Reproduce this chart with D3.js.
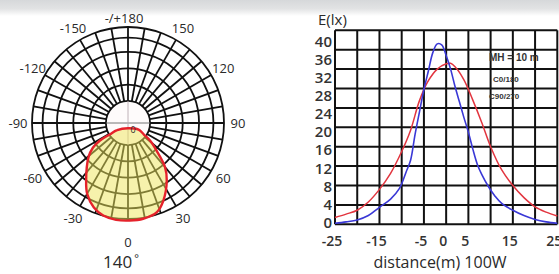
<!DOCTYPE html>
<html>
<head>
<meta charset="utf-8">
<script src="https://cdn.jsdelivr.net/npm/d3@7"></script>
<style>
body { margin: 0; background: #fff; }
svg { display: block; }
text { font-family: "Open Sans", sans-serif; fill: #2a2a2a; }
</style>
</head>
<body>
<div id="chart"></div>
<script>
(function(d3) {
'use strict';

// polar diagram: outline of the light distribution (0 = straight down, negative = left)
var lobeAngles = [0, -57, -58, -58, -55, -49, -36, -30, -22, -15, -7, 1, 9, 18, 24.5, 34, 40, 46, 51.5, 54, 58];
var lobeValues = [5.5, 13.5, 22.5, 34.4, 44.5, 54.6, 74.2, 85.1, 94.9, 99.7, 101.6, 101.6, 101, 97.6, 88.8, 72.2, 60, 41.4, 29.3, 20.5, 13];
var ringValues = [23, 40, 57, 74, 89, 100];
var polarAngles = [0, 30, 60, 90, 120, 150, 180, -150, -120, -90, -60, -30];
var polarLabels = ['0', '30', '60', '90', '120', '150', '-/+180', '-150', '-120', '-90', '-60', '-30'];

// illuminance curves
var blueX = [-25, -22.5, -20, -17.5, -15, -12.5, -10.5, -9, -8, -7, -6, -5, -4, -3, -2, -1, 0, 1, 2, 3, 4, 5, 6, 7, 8, 9.5, 11, 12.5, 15, 17.5, 20, 22.5, 25];
var blueLux = [0.2, 0.5, 0.9, 1.8, 3.5, 5.2, 7.4, 10.8, 13.2, 18.5, 23.2, 27.8, 31.6, 35.4, 37.2, 37.0, 34.8, 32.0, 28.4, 25.2, 22.0, 19.0, 15.5, 12.4, 10.3, 7.8, 5.8, 4.3, 2.9, 1.8, 1.0, 0.5, 0.2];
var redX = [-25, -22.5, -20, -17.5, -15, -12.5, -10, -8, -6, -4, -2, 0, 1, 2, 4, 6, 8, 10, 12.5, 15, 17.5, 20, 22.5, 25];
var redLux = [1.4, 2.1, 2.9, 4.6, 7.2, 10.5, 15.0, 19.4, 25.5, 29.6, 32.0, 33.1, 33.2, 32.5, 29.8, 25.6, 21.0, 16.0, 11.2, 8.0, 5.5, 3.6, 2.5, 1.7];
var xTicks = [-25, -15, -5, 0, 5, 15, 25];
var yTicks = [0, 4, 8, 12, 16, 20, 24, 28, 32, 36, 40];
var legendLines = ['C0/180', 'C90/270'];

var width = 559, height = 274;

var svg = d3.select('#chart')
  .append('svg')
  .attr('width', width)
  .attr('height', height);

// scanned page edge at the top
var grad = svg.append('defs').append('linearGradient')
  .attr('id', 'topfade').attr('x1', 0).attr('y1', 0).attr('x2', 0).attr('y2', 1);
grad.append('stop').attr('offset', '0%').attr('stop-color', '#d6d8da');
grad.append('stop').attr('offset', '55%').attr('stop-color', '#e2e3e4');
grad.append('stop').attr('offset', '100%').attr('stop-color', '#ffffff');
svg.append('rect').attr('width', width).attr('height', 16).attr('fill', 'url(#topfade)');

// ---------- polar ----------
var cx = 128, cy = 123, R = 96;
var r = d3.scaleLinear().domain([0, 100]).range([0, R]);
var rad = function(a) { return (180 - a) * Math.PI / 180; };

var polar = svg.append('g').attr('transform', 'translate(' + cx + ',' + cy + ')');

polar.selectAll('line.spoke')
  .data(d3.range(0, 360, 10))
  .enter()
  .append('line')
  .attr('class', 'spoke')
  .attr('x1', function(d) { return Math.sin(rad(d)) * r(ringValues[0]); })
  .attr('y1', function(d) { return -Math.cos(rad(d)) * r(ringValues[0]); })
  .attr('x2', function(d) { return Math.sin(rad(d)) * R; })
  .attr('y2', function(d) { return -Math.cos(rad(d)) * R; })
  .attr('stroke', '#111')
  .attr('stroke-width', 1.8);

polar.selectAll('circle.ring')
  .data(ringValues)
  .enter()
  .append('circle')
  .attr('class', 'ring')
  .attr('r', function(d) { return r(d); })
  .attr('fill', function(d, i) { return i === 0 ? '#fefbfb' : 'none'; })
  .attr('stroke', '#111')
  .attr('stroke-width', 1.8);

// thin cross in the hole
var hole = r(ringValues[0]);
polar.append('line').attr('x1', -hole).attr('x2', hole).attr('y1', 0).attr('y2', 0)
  .attr('stroke', '#666').attr('stroke-width', 0.9);
polar.append('line').attr('x1', 0).attr('x2', 0).attr('y1', -hole).attr('y2', hole)
  .attr('stroke', '#b9a9b0').attr('stroke-width', 0.9);

var lobe = lobeAngles.map(function(a, i) { return { a: a, v: lobeValues[i] }; });
var lobeLine = d3.lineRadial()
  .angle(function(d) { return rad(d.a); })
  .radius(function(d) { return r(d.v); })
  .curve(d3.curveCatmullRomClosed);

polar.append('path')
  .attr('d', lobeLine(lobe))
  .attr('fill', '#eee55a')
  .attr('fill-opacity', 0.5)
  .attr('stroke', 'none');
polar.append('path')
  .attr('d', lobeLine(lobe))
  .attr('fill', 'none')
  .attr('stroke', '#e5222b')
  .attr('stroke-width', 2.4);

polar.append('text')
  .attr('x', 5).attr('y', 6)
  .attr('text-anchor', 'middle')
  .attr('dominant-baseline', 'central')
  .style('font-size', '9px')
  .text('0');

polar.selectAll('text.plab')
  .data(polarAngles)
  .enter()
  .append('text')
  .attr('class', 'plab')
  .attr('x', function(d) { var lr = d === 0 ? 119 : d === 180 ? 105 : 110; return Math.sin(rad(d)) * lr + (d === 180 ? -4 : 0); })
  .attr('y', function(d) { var lr = d === 0 ? 119 : d === 180 ? 105 : 110; return -Math.cos(rad(d)) * lr; })
  .attr('text-anchor', 'middle')
  .attr('dominant-baseline', 'central')
  .style('font-size', '13px')
  .text(function(d, i) { return polarLabels[i]; });

svg.append('text')
  .attr('x', 103).attr('y', 268)
  .style('font-size', '17px')
  .text('140')
  .append('tspan')
  .attr('dx', 2).attr('dy', -6)
  .style('font-size', '11px')
  .text('°');

// ---------- illuminance ----------
var x = d3.scaleLinear().domain([-25, 25]).range([335, 557.3]);
var y = d3.scaleLinear().domain([0, 40]).range([224.3, 30.3]);
// tick labels on the scan sit a little tighter than the grid
var yLab = d3.scaleLinear().domain([0, 40]).range([222, 40.5]);

var grid = svg.append('g');
grid.selectAll('line.v')
  .data(d3.range(-25, 26, 5))
  .enter()
  .append('line')
  .attr('x1', function(d) { return x(d); }).attr('x2', function(d) { return x(d); })
  .attr('y1', y(0)).attr('y2', y(40))
  .attr('stroke', '#111').attr('stroke-width', 2);
grid.selectAll('line.h')
  .data(yTicks)
  .enter()
  .append('line')
  .attr('x1', x(-25)).attr('x2', x(25))
  .attr('y1', function(d) { return y(d); }).attr('y2', function(d) { return y(d); })
  .attr('stroke', '#111').attr('stroke-width', 2);

svg.selectAll('text.ylab')
  .data(yTicks)
  .enter()
  .append('text')
  .attr('class', 'ylab')
  .attr('x', 332)
  .attr('y', function(d) { return yLab(d); })
  .attr('text-anchor', 'end')
  .attr('dominant-baseline', 'central')
  .style('font-size', '15px')
  .style('font-weight', 600)
  .style('fill', '#333')
  .text(function(d) { return d; });

svg.selectAll('text.xlab')
  .data(xTicks)
  .enter()
  .append('text')
  .attr('class', 'xlab')
  .attr('x', function(d) { return x(d) - 3; })
  .attr('y', 240)
  .attr('text-anchor', 'middle')
  .attr('dominant-baseline', 'central')
  .style('font-size', '14px')
  .style('font-weight', 600)
  .style('fill', '#333')
  .text(function(d) { return d; });

var curve = d3.line()
  .x(function(d) { return x(d[0]); })
  .y(function(d) { return y(d[1]); })
  .curve(d3.curveCatmullRom);

svg.append('path')
  .attr('d', curve(redX.map(function(v, i) { return [v, redLux[i]]; })))
  .attr('fill', 'none')
  .attr('stroke', '#e2353f')
  .attr('stroke-width', 1.5);
svg.append('path')
  .attr('d', curve(blueX.map(function(v, i) { return [v, blueLux[i]]; })))
  .attr('fill', 'none')
  .attr('stroke', '#3a38d6')
  .attr('stroke-width', 1.6);

svg.append('text')
  .attr('x', 318).attr('y', 19)
  .attr('dominant-baseline', 'central')
  .style('font-size', '15px')
  .text('E(lx)');

svg.append('text')
  .attr('x', 489).attr('y', 57)
  .attr('dominant-baseline', 'central')
  .style('font-family', '"Liberation Sans", sans-serif')
  .style('font-size', '10px')
  .style('font-weight', 'bold')
  .style('fill', '#333')
  .text('MH = 10 m');

svg.selectAll('text.leg')
  .data(legendLines)
  .enter()
  .append('text')
  .attr('class', 'leg')
  .attr('x', function(d, i) { return i === 0 ? 493 : 489; })
  .attr('y', function(d, i) { return 79 + i * 17; })
  .attr('dominant-baseline', 'central')
  .style('font-family', '"Liberation Sans", sans-serif')
  .style('font-size', '8px')
  .style('font-weight', 'bold')
  .style('fill', '#333')
  .text(function(d) { return d; });

svg.append('text')
  .attr('x', 440).attr('y', 268)
  .attr('text-anchor', 'middle')
  .style('font-size', '16px')
  .text('distance(m) 100W');

})(window.d3);
</script>
</body>
</html>
